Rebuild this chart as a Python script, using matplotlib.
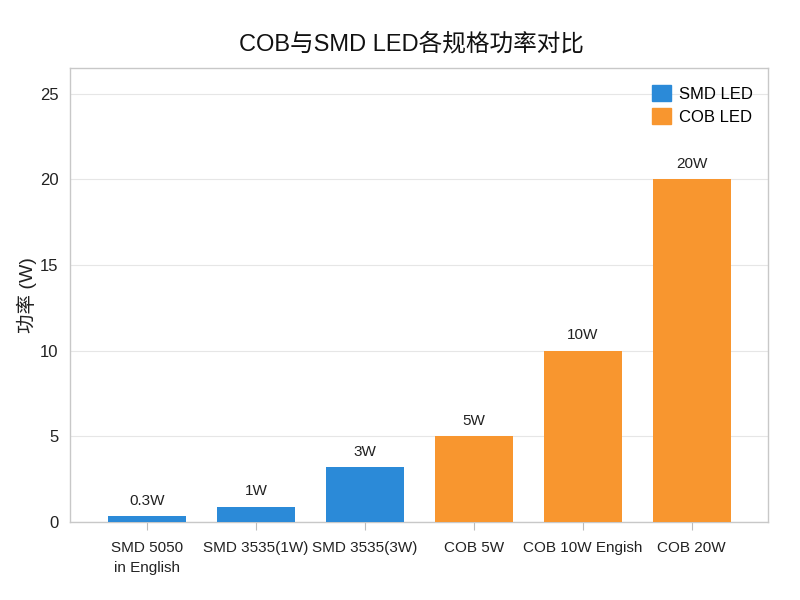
import matplotlib
matplotlib.use('Agg')
import matplotlib.pyplot as plt
from matplotlib.patches import Patch
import numpy as np

plt.rcParams['font.family'] = ['Liberation Sans', 'Noto Sans CJK SC', 'DejaVu Sans']

# data
categories = ['SMD 5050\nin English', 'SMD 3535(1W)', 'SMD 3535(3W)',
              'COB 5W', 'COB 10W Engish', 'COB 20W']
power = [0.35, 0.9, 3.2, 5.0, 10.0, 20.0]
value_labels = ['0.3W', '1W', '3W', '5W', '10W', '20W']
led_type = ['SMD', 'SMD', 'SMD', 'COB', 'COB', 'COB']

type_colors = {'SMD': '#2B8AD8', 'COB': '#F8962F'}
colors = [type_colors[t] for t in led_type]

fig = plt.figure(figsize=(8, 6), dpi=100)
ax = fig.add_axes([0.087, 0.13, 0.873, 0.757])

x = np.arange(len(categories))
bars = ax.bar(x, power, width=0.72, color=colors, zorder=3)

for b, lab in zip(bars, value_labels):
    ax.annotate(lab, (b.get_x() + b.get_width() / 2, b.get_height()),
                xytext=(0, 6), textcoords='offset points',
                ha='center', va='bottom', fontsize=11, color='#222222')

ax.set_xlim(-0.71, 5.70)
ax.set_ylim(0, 26.5)
ax.set_yticks([0, 5, 10, 15, 20, 25])
ax.set_xticks(x)
ax.set_xticklabels(categories, fontsize=11, color='#222222', linespacing=1.5)
ax.tick_params(axis='y', length=0, labelsize=12, labelcolor='#222222', pad=8)
ax.tick_params(axis='x', length=6, color='#bbbbbb', pad=8)

ax.grid(axis='y', color='#e6e6e6', linewidth=0.8, zorder=0)
for s in ax.spines.values():
    s.set_color('#c8c8c8')
    s.set_linewidth(1.0)

ax.set_ylabel('功率 (W)', fontsize=14, color='#222222', labelpad=2)
fig.text(0.514, 0.927, 'COB与SMD LED各规格功率对比', fontsize=17,
         color='#111111', ha='center', va='center')

handles = [Patch(color=type_colors['SMD'], label='SMD LED'),
           Patch(color=type_colors['COB'], label='COB LED')]
ax.legend(handles=handles, loc='upper right', frameon=False, fontsize=12,
          handlelength=1.1, handleheight=1.1, handletextpad=0.5,
          labelspacing=0.4, bbox_to_anchor=(1.0, 0.995))

fig.savefig('out.png', dpi=100, facecolor='white')
